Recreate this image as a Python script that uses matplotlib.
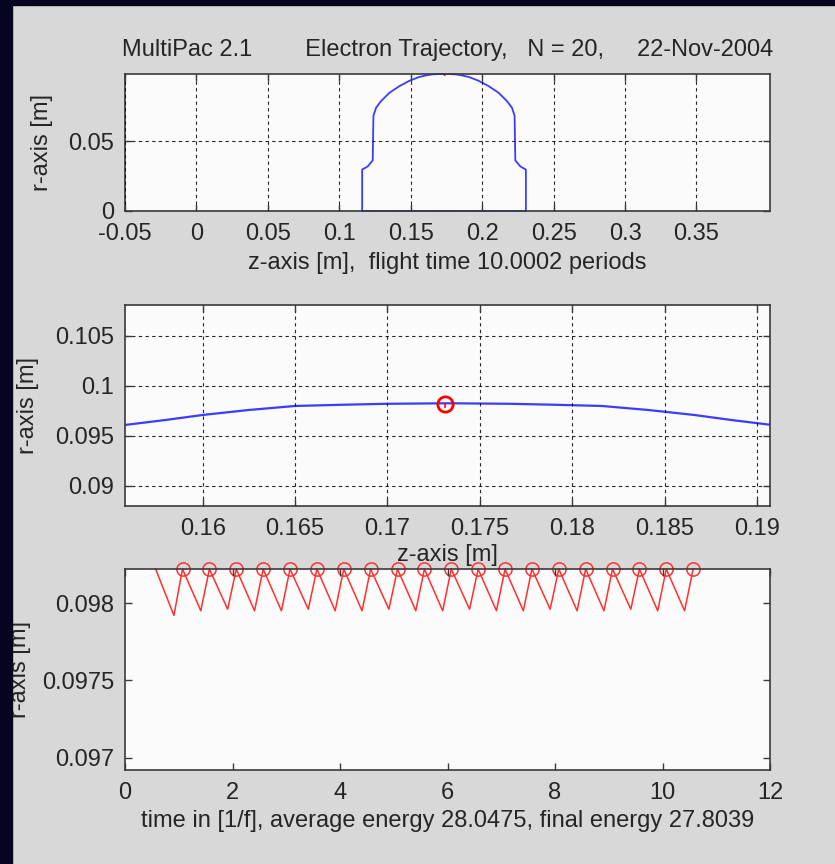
import matplotlib.pyplot as plt
from matplotlib.patches import Rectangle

# cavity wall profile (z, r) in metres
wall_z = [0.1160, 0.1160, 0.1199, 0.1234, 0.1239, 0.1258, 0.1293, 0.1351, 0.1421, 0.1491,
          0.1530, 0.1558, 0.1580, 0.1600, 0.1625, 0.1650, 0.1675, 0.1700, 0.1733, 0.1766,
          0.1791, 0.1816, 0.1841, 0.1866, 0.1886, 0.1908, 0.1936, 0.1975, 0.2045, 0.2115,
          0.2173, 0.2208, 0.2227, 0.2232, 0.2267, 0.2306, 0.2306, 0.1160]
wall_r = [0.0, 0.0297, 0.0320, 0.0363, 0.0683, 0.0742, 0.0789, 0.0848, 0.0896, 0.0934,
          0.0950, 0.0961, 0.0966, 0.0971, 0.0976, 0.0980, 0.09812, 0.09822, 0.09827, 0.09822,
          0.09812, 0.0980, 0.0976, 0.0971, 0.0966, 0.0961, 0.0950, 0.0934, 0.0896, 0.0848,
          0.0789, 0.0742, 0.0683, 0.0363, 0.0320, 0.0297, 0.0, 0.0]

# impact position on the wall
impact_z = [0.1731]
impact_r = [0.09822]

# electron radius vs time (in RF periods)
traj_t = [0.57, 0.91, 1.07, 1.41, 1.57, 1.91, 2.07, 2.41, 2.57, 2.91, 3.07, 3.41, 3.57, 3.91,
          4.07, 4.41, 4.57, 4.91, 5.07, 5.41, 5.57, 5.91, 6.07, 6.41, 6.57, 6.91, 7.07, 7.41,
          7.57, 7.91, 8.07, 8.41, 8.57, 8.91, 9.07, 9.41, 9.57, 9.91, 10.07, 10.41, 10.57]
traj_r = [0.09822, 0.09792, 0.09822, 0.09795, 0.09822, 0.09796, 0.09822, 0.09795, 0.09822,
          0.09795, 0.09822, 0.09796, 0.09822, 0.09795, 0.09822, 0.09795, 0.09822, 0.09796,
          0.09822, 0.09795, 0.09822, 0.09795, 0.09822, 0.09796, 0.09822, 0.09795, 0.09822,
          0.09795, 0.09822, 0.09796, 0.09822, 0.09795, 0.09822, 0.09795, 0.09822, 0.09796,
          0.09822, 0.09795, 0.09822, 0.09795, 0.09822]
hit_t = [1.07, 1.57, 2.07, 2.57, 3.07, 3.57, 4.07, 4.57, 5.07, 5.57,
         6.07, 6.57, 7.07, 7.57, 8.07, 8.57, 9.07, 9.57, 10.07, 10.57]
hit_r = [0.09822, 0.09822, 0.09822, 0.09822, 0.09822, 0.09822, 0.09822, 0.09822, 0.09822, 0.09822,
         0.09822, 0.09822, 0.09822, 0.09822, 0.09822, 0.09822, 0.09822, 0.09822, 0.09822, 0.09822]

top_xticks = [-0.05, 0, 0.05, 0.1, 0.15, 0.2, 0.25, 0.3, 0.35]
top_xlabels = ['-0.05', '0', '0.05', '0.1', '0.15', '0.2', '0.25', '0.3', '0.35']
top_yticks = [0, 0.05]
top_ylabels = ['0', '0.05']
mid_xticks = [0.16, 0.165, 0.17, 0.175, 0.18, 0.185, 0.19]
mid_xlabels = ['0.16', '0.165', '0.17', '0.175', '0.18', '0.185', '0.19']
mid_yticks = [0.09, 0.095, 0.1, 0.105]
mid_ylabels = ['0.09', '0.095', '0.1', '0.105']
bot_xticks = [0, 2, 4, 6, 8, 10, 12]
bot_xlabels = ['0', '2', '4', '6', '8', '10', '12']
bot_yticks = [0.097, 0.0975, 0.098]
bot_ylabels = ['0.097', '0.0975', '0.098']

title = 'MultiPac 2.1        Electron Trajectory,   N = 20,     22-Nov-2004'

plt.rcParams['font.family'] = ['Liberation Sans', 'DejaVu Sans']
plt.rcParams['font.size'] = 17
plt.rcParams['axes.unicode_minus'] = False

fig = plt.figure(figsize=(8.35, 8.64), dpi=100, facecolor='#d8d8d8')


def style(ax, grid=True):
    ax.set_facecolor('#fbfbfb')
    for s in ax.spines.values():
        s.set_color('#3a3a3a')
        s.set_linewidth(1.2)
    ax.tick_params(direction='in', length=5, width=1, top=True, right=True,
                   color='#3a3a3a', labelcolor='#252525', labelsize=17)
    ax.tick_params(axis='x', pad=8.5)
    ax.tick_params(axis='y', pad=8)
    if grid:
        ax.grid(True, color='black', linestyle=(0, (3, 3)), linewidth=0.8, alpha=0.85)
    ax.set_axisbelow(False)


# top: full cavity
ax1 = fig.add_axes([0.1497, 0.7558, 0.7725, 0.1586])
style(ax1)
ax1.plot(wall_z, wall_r, color='#3c3cff', lw=1.3, clip_on=False)
ax1.plot(impact_z, impact_r, 'r.', ms=2)
ax1.set_xlim(-0.05, 0.4015)
ax1.set_ylim(0, 0.0983)
ax1.set_xticks(top_xticks)
ax1.set_xticklabels(top_xlabels)
ax1.set_yticks(top_yticks)
ax1.set_yticklabels(top_ylabels)
ax1.set_title(title, pad=13, fontsize=17, color='#252525')
ax1.set_xlabel('z-axis [m],  flight time 10.0002 periods', color='#252525')
ax1.set_ylabel('r-axis [m]', color='#252525')
ax1.xaxis.set_label_coords(0.5, -0.38)
ax1.xaxis.label.set_va('center')
ax1.yaxis.set_label_coords(-0.128, 0.5)
ax1.yaxis.label.set_va('center')

# middle: zoom on impact region
ax2 = fig.add_axes([0.1497, 0.4144, 0.7725, 0.2326])
style(ax2)
ax2.plot(wall_z, wall_r, color='#3c3cff', lw=1.6)
ax2.plot(impact_z * 2, [min(traj_r), max(traj_r)], color='red', lw=1.2)
ax2.plot(impact_z, impact_r, 'o', ms=11, mfc='none', mec='red', mew=2)
ax2.set_xlim(0.1558, 0.1907)
ax2.set_ylim(0.088, 0.1081)
ax2.set_xticks(mid_xticks)
ax2.set_xticklabels(mid_xlabels)
ax2.set_yticks(mid_yticks)
ax2.set_yticklabels(mid_ylabels)
ax2.set_xlabel('z-axis [m]', color='#252525')
ax2.set_ylabel('r-axis [m]', color='#252525')
ax2.xaxis.set_label_coords(0.5, -0.246)
ax2.xaxis.label.set_va('center')
ax2.yaxis.set_label_coords(-0.150, 0.5)
ax2.yaxis.label.set_va('center')

# bottom: r vs time
ax3 = fig.add_axes([0.1497, 0.1088, 0.7725, 0.2326])
style(ax3, grid=False)
ax3.plot(traj_t, traj_r, color='#ff3030', lw=1.1, clip_on=False)
ax3.plot(hit_t, hit_r, 'o', ms=9.5, mfc='none', mec='#ff3030', mew=1.1, clip_on=False)
ax3.set_xlim(0, 12)
ax3.set_ylim(0.09692, 0.09822)
ax3.set_xticks(bot_xticks)
ax3.set_xticklabels(bot_xlabels)
ax3.set_yticks(bot_yticks)
ax3.set_yticklabels(bot_ylabels)
ax3.set_xlabel('time in [1/f], average energy 28.0475, final energy 27.8039', color='#252525')
ax3.set_ylabel('r-axis [m]', color='#252525')
ax3.xaxis.set_label_coords(0.5, -0.254)
ax3.xaxis.label.set_va('center')
ax3.yaxis.set_label_coords(-0.163, 0.5)
ax3.yaxis.label.set_va('center')

# dark frame strips along left and top edges
fig.add_artist(Rectangle((0, 0), 12 / 835, 1, transform=fig.transFigure,
                         color='#05051f', zorder=10))
fig.add_artist(Rectangle((0, 1 - 5 / 864), 1, 5 / 864, transform=fig.transFigure,
                         color='#05051f', zorder=10))

fig.savefig('out.png', dpi=100, facecolor=fig.get_facecolor())
